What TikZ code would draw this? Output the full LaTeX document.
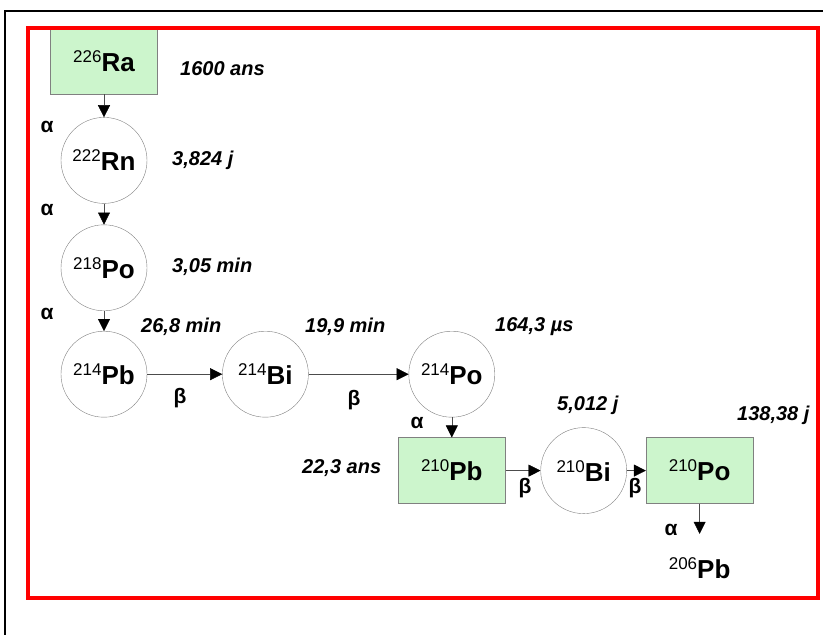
\documentclass[tikz,border=0pt]{standalone}
\usepackage{fontspec}
\setmainfont{Liberation Sans}
\usetikzlibrary{arrows.meta,positioning}

\definecolor{boxgreen}{RGB}{204,245,204}
\definecolor{edgegray}{RGB}{128,128,128}
\definecolor{framered}{RGB}{255,0,0}

% isotope: mass number, symbol
\newcommand{\iso}[2]{{\fontsize{17}{17}\selectfont\raisebox{9pt}{#1}}{\fontsize{26}{26}\selectfont\bfseries #2}}

\tikzset{
  nucl/.style={draw=edgegray, circle, minimum size=86pt, inner sep=0pt},
  stable/.style={draw=edgegray, fill=boxgreen, rectangle, minimum width=107pt, minimum height=66pt, inner sep=0pt},
  halflife/.style={anchor=west, inner sep=0pt, font=\fontsize{20}{20}\selectfont\bfseries\itshape},
  ray/.style={inner sep=0pt, font=\fontsize{21}{21}\selectfont\bfseries},
  arr/.style={draw=black!70, -{Triangle[length=12pt,width=12pt,black]}}
}

\begin{document}
\begin{tikzpicture}[x=1pt, y=1pt]

\useasboundingbox (0,0) rectangle (823,-635);

% Chain down
\node[stable] (Ra226) at (104,-61) {\iso{226}{Ra}};
\node[nucl]   (Rn222) [below=23pt of Ra226] {\iso{222}{Rn}};
\node[nucl]   (Po218) [below=21pt of Rn222] {\iso{218}{Po}};
\node[nucl]   (Pb214) [below=20pt of Po218] {\iso{214}{Pb}};

% Chain right
\node[nucl]   (Bi214) [right=75pt of Pb214]  {\iso{214}{Bi}};
\node[nucl]   (Po214) [right=100pt of Bi214] {\iso{214}{Po}};

% Long-lived part
\node[stable] (Pb210) [below=20pt of Po214] {\iso{210}{Pb}};
\node[nucl]   (Bi210) [right=35pt of Pb210] {\iso{210}{Bi}};
\node[stable] (Po210) [right=19pt of Bi210] {\iso{210}{Po}};
\node[inner sep=0pt, anchor=north] (Pb206) [below=54pt of Po210] {\iso{206}{Pb}};

% Half-lives
\node[halflife] (tRa)   at (180,-69)  {1600 ans};
\node[halflife] (tRn)   at (172,-160) {3,824 j};
\node[halflife] (tPo218) at (172,-267) {3,05 min};
\node[halflife] (tPb214) at (141,-327) {26,8 min};
\node[halflife] (tBi214) at (305,-327) {19,9 min};
\node[halflife] (tPo214) at (495,-327) {164,3 µs};
\node[halflife] (tPb210) at (302,-468) {22,3 ans};
\node[halflife] (tBi210) at (557,-405) {5,012 j};
\node[halflife] (tPo210) at (737,-415) {138,38 j};

% Decays
\node[ray] (a1) at (47,-127) {α};
\node[ray] (a2) at (47,-210) {α};
\node[ray] (a3) at (47,-314) {α};
\node[ray] (b1) at (180,-398) {β};
\node[ray] (b2) at (354,-400) {β};
\node[ray] (a4) at (417,-423) {α};
\node[ray] (b3) at (525,-488) {β};
\node[ray] (b4) at (635,-488) {β};
\node[ray] (a5) at (671,-530) {α};

% Edges
\draw[arr] (Ra226) -- (Rn222);
\draw[arr] (Rn222) -- (Po218);
\draw[arr] (Po218) -- (Pb214);
\draw[arr] (Pb214) -- (Bi214);
\draw[arr] (Bi214) -- (Po214);
\draw[arr] (Po214) -- (Pb210);
\draw[arr] (Pb210) -- (Bi210);
\draw[arr] (Bi210) -- (Po210);
\draw[arr, shorten >=24pt] (Po210) -- (Pb206);

% Frames
\draw[framered, line width=3.5pt] (28,-28) rectangle (818,-598);
\draw[black, line width=1.5pt] (5,-635) -- (5,-11) -- (823,-11);

\end{tikzpicture}
\end{document}
